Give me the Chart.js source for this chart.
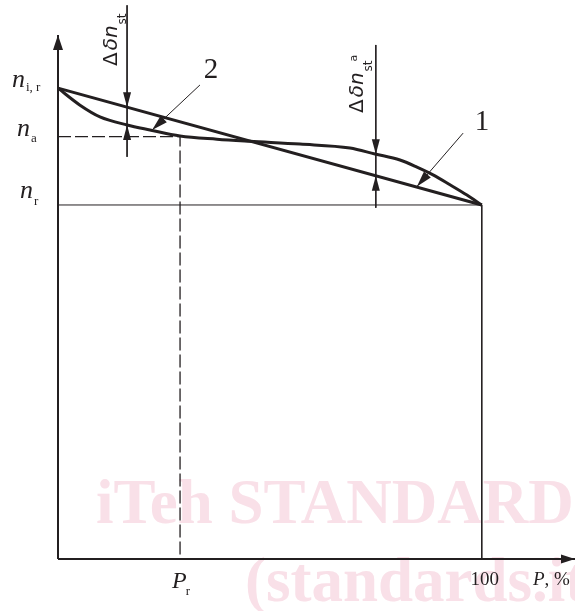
<!DOCTYPE html>
<html>
<head>
<meta charset="utf-8">
<script src="https://cdn.jsdelivr.net/npm/chart.js@4/dist/chart.umd.min.js"></script>
<style>
html,body{margin:0;padding:0;background:#fff;}
canvas{display:block;}
</style>
</head>
<body>
<canvas id="c" width="575" height="611"></canvas>
<script>
// ---------- data (P in %, n in relative units, n_r = 100) ----------
const xAxisEnd = 122;          // P value at the x-axis arrow tip
const yAxisEnd = 148;          // n value at the y-axis arrow tip
const yScaleMax = 157.9;

const nIR = 133;               // n_i,r
const nA = 119.3;              // n_a
const nR = 100;                // n_r
const pR = 28.8;               // P_r
const pFull = 100;             // 100 %

// actual speed characteristic
const curveP = [0, 5.2, 9.9, 16.3, 21.7, 28.8, 37.5, 45.3, 57.1, 68.9, 74.8, 80.7, 84.7, 88.5, 92.5, 96.5, 100];
const curveN = [133, 128.2, 124.9, 122.6, 121.2, 119.5, 118.6, 118.0, 117.2, 116.1, 114.4, 112.7, 110.7, 108.5, 105.7, 102.8, 100];

// straight droop line
const lineP = [0, 100];
const lineN = [133, 100];

// dimension lines
const dim1P = 16.3;  const dim1N = [156.4, 113.6]; const dim1Tips = [127.6, 122.6];
const dim2P = 75.0;  const dim2N = [145.2, 99.2];  const dim2Tips = [114.3, 108.25];

// leaders "2" and "1" : [start, tip]
const lead2P = [33.5, 22.2]; const lead2N = [133.9, 121.2];
const lead1P = [95.6, 84.7]; const lead1N = [120.3, 105.2];

const INK = '#231f20';

function pts(xs, ys){ return xs.map((x,i)=>({x:x, y:ys[i]})); }
function seg(extra){ return Object.assign({showLine:true, pointRadius:0, borderColor:INK, borderWidth:1, fill:false, clip:false, tension:0}, extra); }

const arrowHeads = [
  {tip:[0,yAxisEnd], from:[0,0], len:15, w:10},
  {tip:[xAxisEnd,0], from:[0,0], len:14, w:9},
  {tip:[dim1P,dim1Tips[0]], from:[dim1P,dim1N[0]], len:15, w:8},
  {tip:[dim1P,dim1Tips[1]], from:[dim1P,dim1N[1]], len:15, w:8},
  {tip:[dim2P,dim2Tips[0]], from:[dim2P,dim2N[0]], len:15, w:8},
  {tip:[dim2P,dim2Tips[1]], from:[dim2P,dim2N[1]], len:15, w:8},
  {tip:[lead2P[1],lead2N[1]], from:[lead2P[0],lead2N[0]], len:16, w:9},
  {tip:[lead1P[1],lead1N[1]], from:[lead1P[0],lead1N[0]], len:16, w:9}
];

const deco = {
  id:'deco',
  beforeDraw(chart){
    const ctx = chart.ctx;
    ctx.save();
    ctx.fillStyle = 'rgb(249,224,232)';
    ctx.font = 'bold 63px "Liberation Serif"';
    ctx.textBaseline = 'alphabetic';
    ctx.textAlign = 'left';
    ctx.fillText('iTeh STANDARD', 96, 523);
    ctx.fillText('(standards.iteh.ai)', 245, 601);
    ctx.restore();
  },
  afterDraw(chart){
    const ctx = chart.ctx, xs = chart.scales.x, ys = chart.scales.y;
    const X = v => xs.getPixelForValue(v), Y = v => ys.getPixelForValue(v);
    ctx.save();
    ctx.fillStyle = INK;
    arrowHeads.forEach(a=>{
      const tx = X(a.tip[0]), ty = Y(a.tip[1]);
      const fx = X(a.from[0]), fy = Y(a.from[1]);
      const d = Math.hypot(tx-fx, ty-fy), ux = (tx-fx)/d, uy = (ty-fy)/d;
      const bx = tx - ux*a.len, by = ty - uy*a.len;
      ctx.beginPath();
      ctx.moveTo(tx, ty);
      ctx.lineTo(bx - uy*a.w/2, by + ux*a.w/2);
      ctx.lineTo(bx + uy*a.w/2, by - ux*a.w/2);
      ctx.closePath();
      ctx.fill();
    });
    ctx.textBaseline = 'alphabetic';
    ctx.textAlign = 'left';
    const serifI = s => 'italic ' + s + 'px "Liberation Serif"';
    const serif = s => s + 'px "Liberation Serif"';
    function nLabel(x, base, subTxt, subDy){
      ctx.font = serifI(26);
      ctx.fillText('n', x, base);
      const w = ctx.measureText('n').width;
      ctx.font = serif(13);
      ctx.fillText(subTxt, x + w + 1, base + subDy);
    }
    nLabel(12, Y(nIR) - 1, 'i, r', 4);
    nLabel(17, Y(nA) - 1, 'a', 6);
    nLabel(20, Y(nR) - 7, 'r', 7);

    ctx.font = serifI(24);
    const prx = X(pR) - 8, pry = Y(0) + 29;
    ctx.fillText('P', prx, pry);
    const pw = ctx.measureText('P').width;
    ctx.font = serif(13);
    ctx.fillText('r', prx + pw - 1, pry + 7);

    ctx.font = serif(19);
    ctx.textAlign = 'center';
    ctx.fillText('100', X(pFull) + 3, Y(0) + 26);
    ctx.textAlign = 'left';
    ctx.font = serifI(19);
    ctx.fillText('P', 533, Y(0) + 26);
    const pw2 = ctx.measureText('P').width;
    ctx.font = serif(19);
    ctx.fillText(', %', 533 + pw2, Y(0) + 26);

    ctx.font = serif(29);
    ctx.textAlign = 'center';
    ctx.textBaseline = 'middle';
    ctx.fillText('2', X(lead2P[0]) + 11, Y(lead2N[0]) - 15);
    ctx.fillText('1', X(lead1P[0]) + 19, Y(lead1N[0]) - 11);
    ctx.textAlign = 'left';
    ctx.textBaseline = 'alphabetic';

    function rotLabel(bx, by, sup){
      ctx.save();
      ctx.translate(bx, by);
      ctx.rotate(-Math.PI/2);
      ctx.font = '20px "DejaVu Sans"';
      ctx.fillText('\u0394', 0, 0);
      let x = ctx.measureText('\u0394').width + 2;
      ctx.font = 'italic 20px "DejaVu Sans"';
      ctx.fillText('\u03B4n', x, 0);
      x += ctx.measureText('\u03B4n').width + 1;
      ctx.font = '12px "DejaVu Sans"';
      ctx.fillText('st', x, 9);
      x += ctx.measureText('st').width;
      if (sup){
        ctx.font = '11px "DejaVu Sans"';
        ctx.fillText(sup, x - 1, -6);
      }
      ctx.restore();
    }
    rotLabel(X(dim1P) - 10, 66, null);
    rotLabel(X(dim2P) - 13, 113, 'a');
    ctx.restore();
  }
};

new Chart(document.getElementById('c'), {
  type:'scatter',
  data:{
    datasets:[
      seg({data: pts([0,0],[0,yAxisEnd]), borderWidth:2}),
      seg({data: pts([0,xAxisEnd],[0,0]), borderWidth:2}),
      seg({data: pts([0,pFull],[nR,nR])}),
      seg({data: pts([pFull,pFull],[nR,0])}),
      seg({data: pts([0,pR,pR],[nA,nA,0]), borderWidth:1.3, borderDash:[13,4]}),
      seg({data: pts([dim1P,dim1P], dim1N)}),
      seg({data: pts([dim2P,dim2P], dim2N)}),
      seg({data: pts(lead2P, lead2N)}),
      seg({data: pts(lead1P, lead1N)}),
      seg({data: pts(lineP, lineN), borderWidth:3}),
      seg({data: pts(curveP, curveN), borderWidth:3, cubicInterpolationMode:'monotone'})
    ]
  },
  options:{
    responsive:false,
    animation:false,
    devicePixelRatio:1,
    layout:{padding:{left:58, right:0, top:0, bottom:52}},
    plugins:{legend:{display:false}, tooltip:{enabled:false}},
    scales:{
      x:{type:'linear', min:0, max:xAxisEnd, display:false},
      y:{type:'linear', min:0, max:yScaleMax, display:false}
    }
  },
  plugins:[deco]
});
</script>
</body>
</html>
